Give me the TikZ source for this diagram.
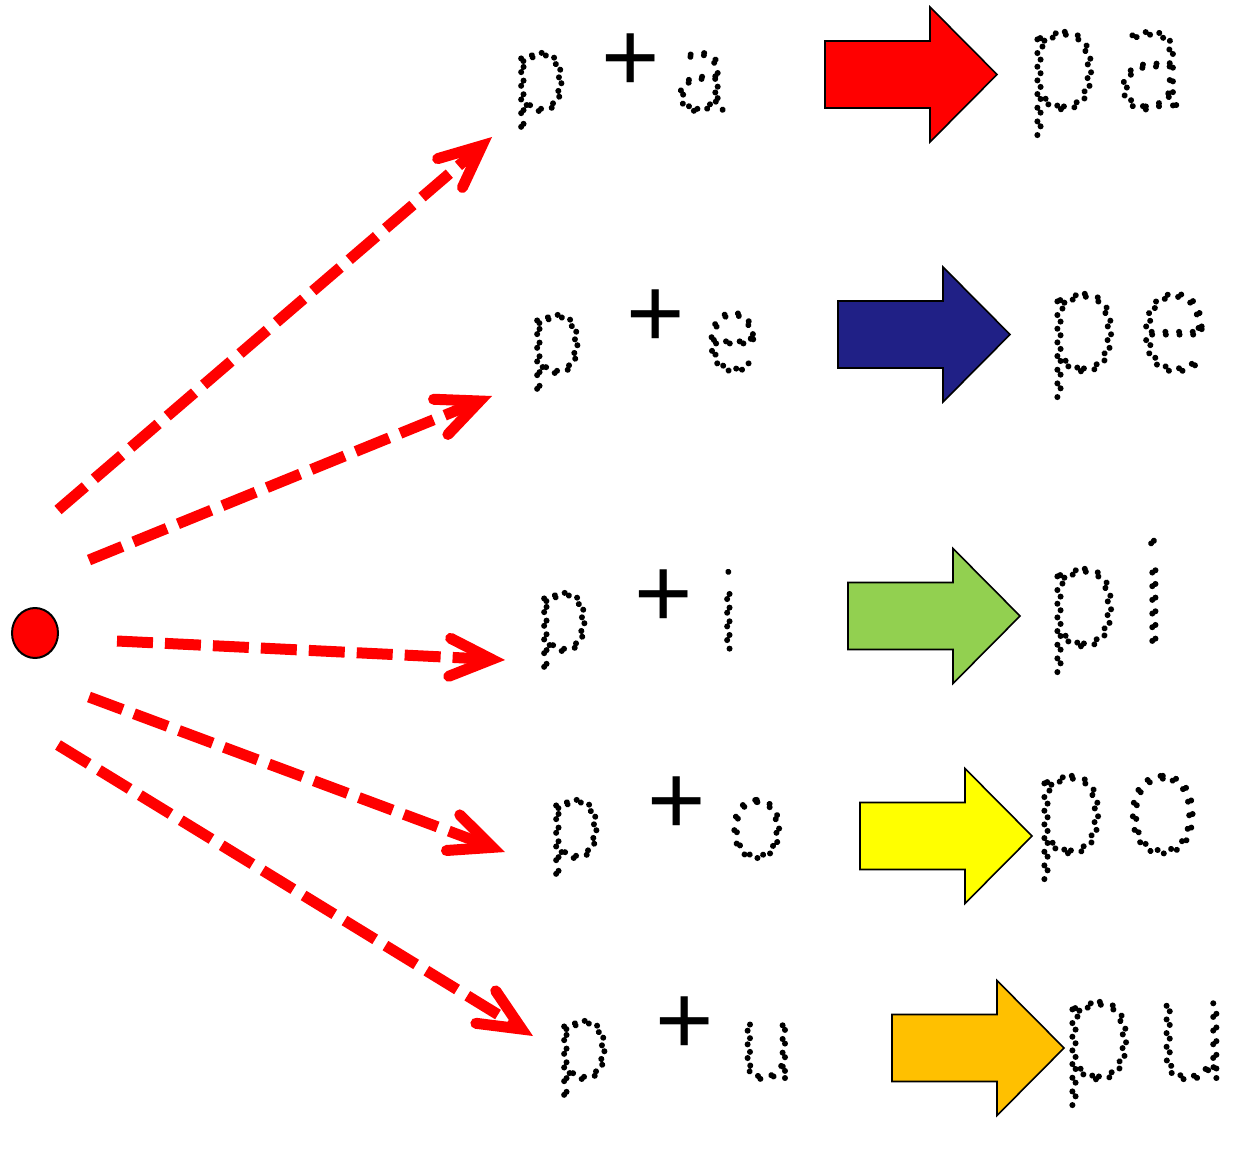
\documentclass[tikz,border=0pt]{standalone}
\usepackage{fontspec}
\usetikzlibrary{arrows.meta,shapes.geometric}
\setmainfont{Liberation Sans}
\newcommand\trydotfont[2]{\IfFontExistsTF{#1}{\newfontfamily\dotfont{#1}}{#2}}
\trydotfont{Fira Sans Hair}{\trydotfont{Fira Sans Thin}{\trydotfont{Fira Sans UltraLight}{%
  \trydotfont{Fira Sans ExtraLight}{\trydotfont{DejaVu Sans ExtraLight}{%
  \trydotfont{Fira Sans Light}{\newfontfamily\dotfont{Liberation Sans}}}}}}}
\newcommand\dottxt[1]{\special{pdf:literal 1 Tr 3 w 1 J 1 j [0.01 6.8] 0 d}#1\special{pdf:literal 0 Tr [] 0 d 0 J 0 j 0.4 w}}
\definecolor{navyarrow}{RGB}{32,32,134}
\definecolor{greenarrow}{RGB}{146,208,80}
\definecolor{yellowarrow}{RGB}{255,255,0}
\definecolor{orangearrow}{RGB}{255,192,0}
\newcommand\blockarr[3]{%
  \draw[blockarrow, fill=#3] (#1,#2-33.5) -- (#1+105,#2-33.5) -- (#1+105,#2-67.5)
    -- (#1+172,#2) -- (#1+105,#2+67.5) -- (#1+105,#2+33.5) -- (#1,#2+33.5) -- cycle;}
\begin{document}
\begin{tikzpicture}[x=0.5pt,y=-0.5pt,
  dasharrow/.style={draw=red, line width=5.5pt, dash pattern=on 18pt off 6pt, line cap=butt,
    -{Straight Barb[length=21pt,width=19pt,line cap=round,line join=miter]}},
  blockarrow/.style={draw=black, line width=0.8pt, line join=miter, solid},
  letter/.style={font=\dotfont\fontsize{54}{60}\selectfont, inner sep=0pt, anchor=base west},
  result/.style={font=\dotfont\fontsize{72}{80}\selectfont\addfontfeature{LetterSpace=9}, inner sep=0pt, anchor=base west},
  plussign/.style={font=\fontsize{50}{60}\selectfont, inner sep=0pt, anchor=base}]
\useasboundingbox (0,0) rectangle (1256,1155);
\fill[white] (0,0) rectangle (1256,1155);

% source dot
\node[ellipse, draw=black, line width=1pt, fill=red, minimum width=23pt, minimum height=25pt, inner sep=0pt] (dot) at (35,633) {};

% dashed arrows
\coordinate (t1) at (58,510);  \coordinate (h1) at (492,137);
\coordinate (t2) at (89,560);  \coordinate (h2) at (492,396);
\coordinate (t3) at (117,641); \coordinate (h3) at (505,660);
\coordinate (t4) at (89,697);  \coordinate (h4) at (505,852);
\coordinate (t5) at (58,745);  \coordinate (h5) at (533,1036);
\draw[dasharrow] (t1) -- (h1);
\draw[dasharrow] (t2) -- (h2);
\draw[dasharrow] (t3) -- (h3);
\draw[dasharrow] (t4) -- (h4);
\draw[dasharrow] (t5) -- (h5);

% block arrows
\blockarr{825}{74.5}{red}
\blockarr{838}{334.5}{navyarrow}
\blockarr{848}{616}{greenarrow}
\blockarr{860}{836}{yellowarrow}
\blockarr{892}{1048}{orangearrow}

% row 1
\node[letter] (p1) at (508,110) {\dottxt{p}};
\node[plussign] (s1) at (631,92) {+};
\node[letter] (v1) at (673,110) {\dottxt{a}};
\node[result] (r1) at (1020,108) {\dottxt{pa}};
% row 2
\node[letter] (p2) at (524,372) {\dottxt{p}};
\node[plussign] (s2) at (656,347) {+};
\node[letter] (v2) at (703,370) {\dottxt{e}};
\node[result] (r2) at (1040,370) {\dottxt{pe}};
% row 3
\node[letter] (p3) at (531,650) {\dottxt{p}};
\node[plussign] (s3) at (664,627) {+};
\node[letter] (v3) at (714,650) {\dottxt{i}};
\node[result] (r3) at (1040,645) {\dottxt{pi}};
% row 4
\node[letter] (p4) at (543,857) {\dottxt{p}};
\node[plussign] (s4) at (677,834) {+};
\node[letter] (v4) at (726,857) {\dottxt{o}};
\node[result] (r4) at (1027,852) {\dottxt{po}};
% row 5
\node[letter] (p5) at (551,1078) {\dottxt{p}};
\node[plussign] (s5) at (685,1054) {+};
\node[letter] (v5) at (735,1078) {\dottxt{u}};
\node[result] (r5) at (1055,1078) {\dottxt{pu}};
\end{tikzpicture}
\end{document}
